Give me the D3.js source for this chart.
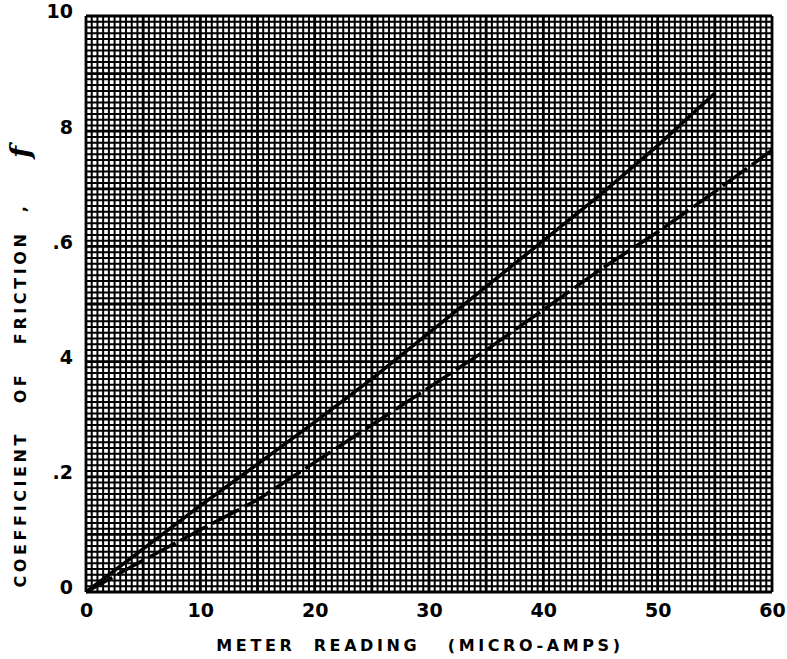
<!DOCTYPE html>
<html>
<head>
<meta charset="utf-8">
<script src="https://cdn.jsdelivr.net/npm/d3@7"></script>
<style>
  body { margin: 0; background: #fff; }
  svg { display: block; }
  .tick text { font-family: "DejaVu Sans", sans-serif; font-weight: bold; }
</style>
</head>
<body>
<svg width="787" height="659"></svg>
<script>
// meter reading (micro-amps)
const meterReading = [0, 5, 10, 15, 20, 25, 30, 35, 40, 45, 50, 55];
const solidFriction = [0, 0.075, 0.15, 0.222, 0.295, 0.37, 0.45, 0.53, 0.61, 0.69, 0.775, 0.866];

const meterReadingDashed = [0, 5, 10, 15, 20, 25, 30, 35, 40, 45, 50, 55, 60];
const dashedFriction = [0, 0.055, 0.108, 0.16, 0.225, 0.29, 0.355, 0.42, 0.49, 0.56, 0.625, 0.695, 0.767];

const xTicks = [0, 10, 20, 30, 40, 50, 60];
const yTicks = [0, 0.2, 0.4, 0.6, 0.8, 1.0];
const yTickLabels = ['0', '.2', '4', '.6', '8', '10'];

const svg = d3.select('svg');

const x = d3.scaleLinear().domain([0, 60]).range([86, 772]);
const y = d3.scaleLinear().domain([0, 1]).range([592, 16]);

// graph paper
const grid = svg.append('g');
const xMinor = d3.range(0, 60.001, 0.5);
const yMinor = d3.range(0, 100.5, 1).map((d) => d / 100);

grid.selectAll('line.vx')
  .data(xMinor)
  .enter()
  .append('line')
  .attr('x1', (d) => x(d))
  .attr('x2', (d) => x(d))
  .attr('y1', y(1))
  .attr('y2', y(0))
  .attr('stroke', '#000')
  .attr('stroke-width', (d, i) => (i % 10 === 0 ? 2.8 : 2));

grid.selectAll('line.hy')
  .data(yMinor)
  .enter()
  .append('line')
  .attr('x1', x(0))
  .attr('x2', x(60))
  .attr('y1', (d) => y(d))
  .attr('y2', (d) => y(d))
  .attr('stroke', '#000')
  .attr('stroke-width', (d, i) => (i % 10 === 0 ? 2.8 : 2));

// curves
const line = d3.line().x((d) => x(d[0])).y((d) => y(d[1]));

svg.append('path')
  .datum(d3.zip(meterReading, solidFriction))
  .attr('d', line)
  .attr('fill', 'none')
  .attr('stroke', '#000')
  .attr('stroke-width', 3.5);

svg.append('path')
  .datum(d3.zip(meterReadingDashed, dashedFriction))
  .attr('d', line)
  .attr('fill', 'none')
  .attr('stroke', '#000')
  .attr('stroke-width', 3.5)
  .attr('stroke-dasharray', '30,6');

// axes (labels only)
const xAxis = svg.append('g')
  .attr('transform', `translate(0,${y(0) + 8})`)
  .call(d3.axisBottom(x).tickValues(xTicks).tickSize(0).tickFormat(d3.format('d')));
xAxis.select('.domain').remove();
xAxis.selectAll('text').attr('font-size', 19).attr('fill', '#000').attr('dy', '0.71em');

const yAxis = svg.append('g')
  .attr('transform', `translate(${x(0) - 10},0)`)
  .call(d3.axisLeft(y).tickValues(yTicks).tickSize(0).tickFormat((d, i) => yTickLabels[i]));
yAxis.select('.domain').remove();
yAxis.selectAll('text').attr('font-size', 19).attr('fill', '#000').attr('dy', '0.1em');

// axis titles
svg.append('text')
  .attr('x', 420)
  .attr('y', 651)
  .attr('text-anchor', 'middle')
  .attr('font-family', 'DejaVu Sans, sans-serif')
  .attr('font-weight', 'bold')
  .attr('font-size', 16)
  .attr('letter-spacing', 3.6)
  .attr('xml:space', 'preserve')
  .text('METER  READING   (MICRO-AMPS)');

svg.append('text')
  .attr('transform', 'translate(26,395) rotate(-90)')
  .attr('text-anchor', 'middle')
  .attr('font-family', 'DejaVu Sans, sans-serif')
  .attr('font-weight', 'bold')
  .attr('font-size', 16)
  .attr('letter-spacing', 3.6)
  .attr('xml:space', 'preserve')
  .text('COEFFICIENT   OF   FRICTION  ,');

svg.append('text')
  .attr('transform', 'translate(30,152) rotate(-90)')
  .attr('text-anchor', 'middle')
  .attr('font-family', 'DejaVu Serif, serif')
  .attr('font-style', 'italic')
  .attr('font-weight', 'bold')
  .attr('font-size', 28)
  .text('f');
</script>
</body>
</html>
